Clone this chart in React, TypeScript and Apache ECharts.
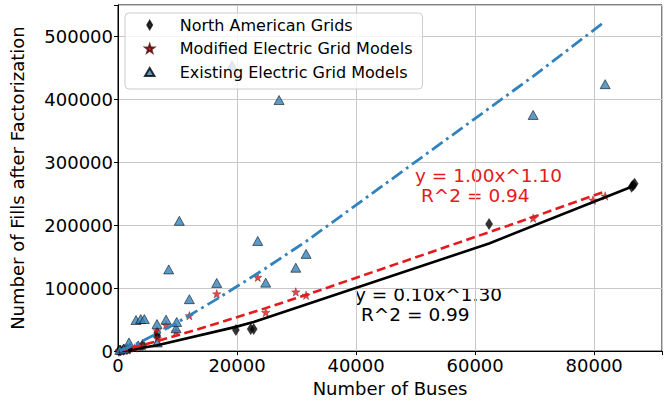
import { useEffect, useRef } from 'react';
import * as echarts from 'echarts';

// North American Grids (diamonds)
const naX = [150, 400, 900, 1500, 2000, 4150, 6600, 6600, 19800, 22300, 22800, 62350, 86300, 86550, 86800];
const naY = [500, 1000, 2000, 3000, 4000, 10000, 24000, 29000, 33600, 35000, 35000, 201900, 261000, 263400, 266000];

// Modified Electric Grid Models (stars)
const modX = [200, 800, 1500, 2800, 4200, 6555, 6600, 8070, 9750, 11990, 16590, 23480, 24820, 29870, 31600, 69750, 79800, 81850];
const modY = [500, 1500, 2500, 5000, 8000, 32600, 20000, 41500, 31000, 56300, 91000, 117200, 61500, 94100, 88800, 211300, 240000, 246500];

// Existing Electric Grid Models (triangles)
const exX = [300, 1000, 1850, 3025, 3400, 3815, 4420, 6555, 6600, 8070, 8520, 9750, 9860, 10300, 11990, 16590, 19160, 23480, 24820, 27060, 29870, 31600, 69750, 81850];
const exY = [2000, 4000, 13700, 49400, 9000, 50900, 50900, 43000, 13700, 50000, 129800, 36300, 46200, 207000, 82500, 108300, 454000, 175000, 108800, 399000, 132500, 154500, 375300, 424200];

// fitted curves
const naFitX = [150, 900, 2000, 6600, 19800, 22300, 22800, 62350, 86300, 86800];
const naFitY = [70, 700, 1950, 9250, 38500, 45000, 46300, 171000, 261200, 263300];

const modFitX = [200, 1500, 4200, 6555, 8070, 9750, 11990, 16590, 23480, 24820, 29870, 31600, 69750, 79800, 81850];
const modFitY = [340, 3120, 9680, 15780, 19860, 24450, 30660, 43870, 64300, 68300, 83900, 89200, 213000, 246800, 253800];

const exFitX = [300, 1850, 3025, 4420, 6600, 8070, 9860, 11990, 16590, 19160, 23480, 24820, 27060, 29870, 31600, 69750, 81850];
const exFitY = [785, 6280, 11340, 17700, 28300, 35400, 44800, 56700, 82600, 97800, 123700, 131700, 145900, 163500, 174300, 436700, 524000];

const xTicks = [0, 20000, 40000, 60000, 80000];
const yTicks = [0, 100000, 200000, 300000, 400000, 500000];

const FONT = 'DejaVu Sans';
const RED = '#e41a1c';
const BLUE = '#3182bd';

const starPath = 'path://M10,0 L12.35,6.76 L19.51,6.91 L13.8,11.24 L15.88,18.09 L10,14 L4.12,18.09 L6.2,11.24 L0.49,6.91 L7.65,6.76 Z';
const diamondPath = 'path://M6,0 L12,10 L6,20 L0,10 Z';
const trianglePath = 'path://M10,0 L20,17 L0,17 Z';

const zip = (xs: number[], ys: number[]) => xs.map((x, i) => [x, ys[i]]);

export default function App() {
  const ref = useRef<HTMLDivElement>(null);
  useEffect(() => {
    const chart = echarts.init(ref.current!, null, { renderer: 'svg' });
    chart.setOption({
      animation: false,
      textStyle: { fontFamily: FONT },
      grid: { left: 118, right: 5, top: 5, bottom: 49, show: true, borderColor: '#000', borderWidth: 1 },
      xAxis: {
        type: 'value', min: 0, max: 91400, interval: 20000,
        name: 'Number of Buses', nameLocation: 'middle', nameGap: 26,
        nameTextStyle: { fontSize: 18, color: '#000', fontFamily: FONT },
        axisLine: { show: true, onZero: false, lineStyle: { color: '#000', width: 1 } },
        axisTick: { show: true, length: 4, lineStyle: { color: '#000' } },
        axisLabel: {
          fontSize: 18, color: '#000', margin: 5, fontFamily: FONT,
          formatter: (v: number) => (xTicks.includes(v) ? String(v) : ''),
        },
        splitLine: { show: true, lineStyle: { color: '#c8c8c8', width: 1 } },
      },
      yAxis: {
        type: 'value', min: 0, max: 550000, interval: 100000,
        name: 'Number of Fills after Factorization', nameLocation: 'middle', nameGap: 92,
        nameTextStyle: { fontSize: 18, color: '#000', fontFamily: FONT },
        axisLine: { show: true, onZero: false, lineStyle: { color: '#000', width: 1 } },
        axisTick: { show: true, length: 4, lineStyle: { color: '#000' } },
        axisLabel: {
          fontSize: 18, color: '#000', margin: 5, fontFamily: FONT,
          formatter: (v: number) => (yTicks.includes(v) ? String(v) : ''),
        },
        splitLine: { show: true, lineStyle: { color: '#c8c8c8', width: 1 } },
      },
      legend: {
        orient: 'vertical', left: 125, top: 13,
        itemWidth: 50, itemHeight: 8, itemGap: 7.5,
        padding: [4, 10, 9, 19],
        backgroundColor: 'rgba(255,255,255,0.8)', borderColor: '#cccccc', borderWidth: 1, borderRadius: 4,
        textStyle: { fontSize: 16, color: '#000', fontFamily: FONT, lineHeight: 16 },
        data: [
          { name: 'North American Grids', icon: diamondPath },
          { name: 'Modified Electric Grid Models', icon: starPath },
          { name: 'Existing Electric Grid Models', icon: trianglePath },
        ],
      },
      graphic: [
        { type: 'text', x: 415, y: 175, style: { text: 'y = 1.00x^1.10', font: `18.5px "${FONT}"`, fill: RED, verticalAlign: 'middle' } },
        { type: 'text', x: 421, y: 195, style: { text: 'R^2 = 0.94', font: `18.5px "${FONT}"`, fill: RED, verticalAlign: 'middle' } },
        { type: 'text', x: 355, y: 294, style: { text: 'y = 0.10x^1.30', font: `18.5px "${FONT}"`, fill: '#000', verticalAlign: 'middle' } },
        { type: 'text', x: 361, y: 314, style: { text: 'R^2 = 0.99', font: `18.5px "${FONT}"`, fill: '#000', verticalAlign: 'middle' } },
      ],
      series: [
        {
          name: 'North American Grids', type: 'scatter', symbol: diamondPath, symbolSize: [7, 11],
          itemStyle: { color: '#000', borderColor: '#000', borderWidth: 0.5 },
          data: zip(naX, naY), z: 3,
        },
        {
          name: 'Modified Electric Grid Models', type: 'scatter', symbol: starPath, symbolSize: 8.5,
          itemStyle: { color: RED, borderColor: '#4a0000', borderWidth: 0.4 },
          data: zip(modX, modY), z: 3,
        },
        {
          name: 'Existing Electric Grid Models', type: 'scatter', symbol: trianglePath, symbolSize: [10, 9],
          itemStyle: { color: BLUE, borderColor: '#000', borderWidth: 0.7 },
          data: zip(exX, exY), z: 3,
        },
        {
          name: 'naFit', type: 'line', symbol: 'none', data: zip(naFitX, naFitY), z: 4,
          lineStyle: { color: '#000', width: 2.6 },
        },
        {
          name: 'modFit', type: 'line', symbol: 'none', data: zip(modFitX, modFitY), z: 4,
          lineStyle: { color: RED, width: 2.6, type: [9, 4.5] },
        },
        {
          name: 'exFit', type: 'line', symbol: 'none', data: zip(exFitX, exFitY), z: 4,
          lineStyle: { color: BLUE, width: 2.8, type: [13, 4.5, 2.8, 4.5] },
        },
      ],
    });
    return () => chart.dispose();
  }, []);
  return <div ref={ref} style={{ position: 'absolute', left: 0, top: 0, width: 667, height: 402 }} />;
}
